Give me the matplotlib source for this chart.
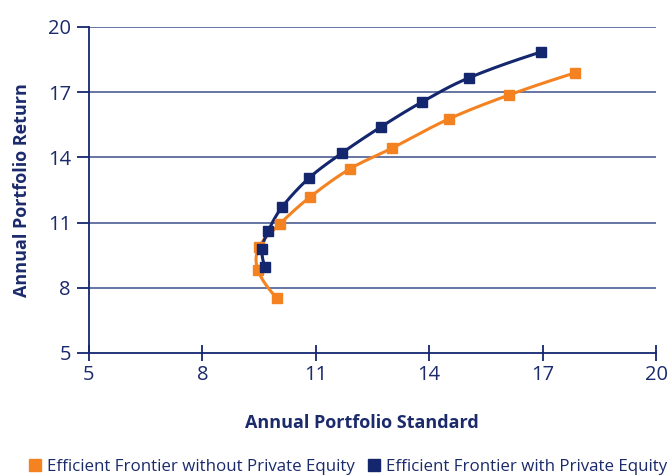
import numpy as np
from matplotlib import pyplot as plt
from matplotlib.lines import Line2D

# efficient frontier points (std, return)
std_without = [9.97, 9.47, 9.50, 10.05, 10.85, 11.90, 13.02, 14.52, 16.11, 17.86]
ret_without = [7.53, 8.82, 9.88, 10.94, 12.18, 13.47, 14.43, 15.77, 16.87, 17.89]
std_with = [9.66, 9.58, 9.74, 10.11, 10.82, 11.69, 12.72, 13.81, 15.05, 16.96]
ret_with = [8.96, 9.79, 10.61, 11.72, 13.05, 14.20, 15.40, 16.55, 17.66, 18.85]

labels = ['Efficient Frontier without Private Equity', 'Efficient Frontier with Private Equity']
ticks = [5, 8, 11, 14, 17, 20]

ORANGE = '#F58220'
NAVY = '#13266E'
GRID = '#5A6A9C'
TEXT = '#1B2A6B'

def smooth(xs, ys, sx=37.8, sy=21.7, n=24):
	"""uniform catmull-rom through the points (in screen-ish units), like excel smoothed lines"""
	p = np.column_stack([np.asarray(xs) * sx, np.asarray(ys) * sy])
	# phantom ends so the end segments bend like a parabola instead of going straight
	p = np.vstack([3 * p[0] - 3 * p[1] + p[2], p, 3 * p[-1] - 3 * p[-2] + p[-3]])
	out = []
	t = np.linspace(0, 1, n)[:, None]
	for i in range(1, len(p) - 2):
		p0, p1, p2, p3 = p[i - 1], p[i], p[i + 1], p[i + 2]
		seg = 0.5 * ((2 * p1) + (-p0 + p2) * t + (2 * p0 - 5 * p1 + 4 * p2 - p3) * t ** 2
			+ (-p0 + 3 * p1 - 3 * p2 + p3) * t ** 3)
		out.append(seg)
	out = np.vstack(out)
	return out[:, 0] / sx, out[:, 1] / sy

plt.rcParams['font.family'] = ['Open Sans', 'DejaVu Sans']
fig = plt.figure(figsize=(6.72, 4.76), dpi=100)
ax = fig.add_axes([89 / 672, 1 - 353 / 476, (656 - 89) / 672, (353 - 27) / 476])

for xs, ys, c in [(std_without, ret_without, ORANGE), (std_with, ret_with, NAVY)]:
	cx, cy = smooth(xs, ys)
	ax.plot(cx, cy, color=c, lw=2.2, zorder=3)
	ax.plot(xs, ys, ls='none', marker='s', ms=7, color=c, zorder=4)

ax.set_xlim(5, 20)
ax.set_ylim(5, 20)
ax.set_xticks(ticks)
ax.set_yticks(ticks)
for t in ticks[1:]:
	ax.axhline(t, color=GRID, lw=1.3, zorder=1)
for s in ['top', 'right']:
	ax.spines[s].set_visible(False)
for s in ['left', 'bottom']:
	ax.spines[s].set_color(NAVY)
	ax.spines[s].set_linewidth(1.3)
ax.tick_params(axis='x', direction='inout', length=12, width=1.3, color=NAVY, labelcolor=TEXT, labelsize=14.5, pad=3)
ax.tick_params(axis='y', direction='out', length=9, width=1.3, color=NAVY, labelcolor=TEXT, labelsize=14.5, pad=4)

ax.set_xlabel('Annual Portfolio Standard', fontsize=13, fontweight='bold', color=TEXT)
ax.xaxis.set_label_coords((362 - 89) / (656 - 89), -(423 - 353) / (353 - 27), transform=ax.transAxes)
ax.set_ylabel('Annual Portfolio Return', fontsize=13, fontweight='bold', color=TEXT)
ax.yaxis.set_label_coords(-(89 - 22) / (656 - 89), 0.5, transform=ax.transAxes)
ax.xaxis.label.set_va('center')
ax.yaxis.label.set_va('center')

handles = [Line2D([], [], ls='none', marker='s', ms=9, color=c) for c in (ORANGE, NAVY)]
fig.legend(handles, labels, loc='center', bbox_to_anchor=(347 / 672, 1 - 467 / 476), ncol=2, frameon=False,
	fontsize=12.2, labelcolor=TEXT, handletextpad=0.2, columnspacing=0.6, handlelength=1.0)

plt.savefig('out.png', dpi=100)
plt.close()
